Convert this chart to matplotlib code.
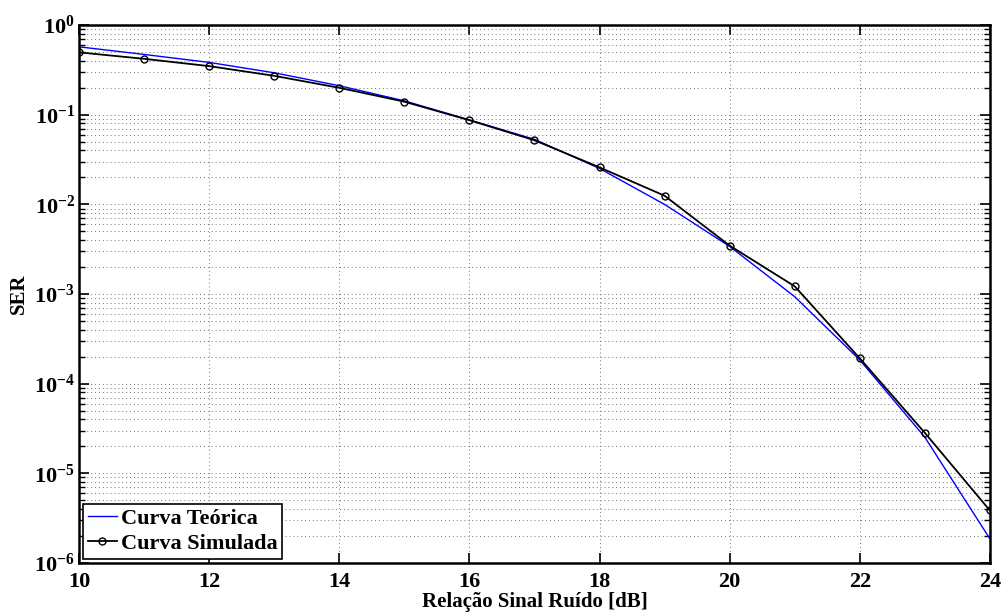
import numpy as np
import matplotlib
matplotlib.use("Agg")
import matplotlib.pyplot as plt
from matplotlib.ticker import LogLocator, FixedLocator, NullFormatter

plt.rcParams['font.family'] = ['Liberation Serif', 'DejaVu Serif']
plt.rcParams['font.weight'] = 'bold'
plt.rcParams['mathtext.fontset'] = 'custom'
plt.rcParams['mathtext.rm'] = 'Liberation Serif:bold'
plt.rcParams['mathtext.bf'] = 'Liberation Serif:bold'
plt.rcParams['mathtext.it'] = 'Liberation Serif:bold'

# SNR points (dB)
snr = [10, 11, 12, 13, 14, 15, 16, 17, 18, 19, 20, 21, 22, 23, 24]
# theoretical SER
ser_teo = [0.573, 0.471, 0.384, 0.294, 0.211, 0.143, 0.0877, 0.0532, 0.0252,
           0.0100, 0.0034, 9.35e-4, 1.84e-4, 2.53e-5, 1.86e-6]
# simulated SER
ser_sim = [0.497, 0.421, 0.349, 0.272, 0.200, 0.140, 0.087, 0.052, 0.0259,
           0.0125, 0.00347, 0.00122, 1.92e-4, 2.83e-5, 3.85e-6]

xticks = [10, 12, 14, 16, 18, 20, 22, 24]
ydecades = [1e-6, 1e-5, 1e-4, 1e-3, 1e-2, 1e-1, 1e0]

fig = plt.figure(figsize=(10.06, 6.13), dpi=100)
ax = fig.add_axes([0.0785, 0.0816, 0.9055, 0.8774])

ax.semilogy(snr, ser_teo, color='blue', lw=1.0, label='Curva Teórica')
ax.semilogy(snr, ser_sim, color='black', lw=1.3, marker='o', ms=5,
            mfc='none', mec='black', mew=1.0, label='Curva Simulada')

ax.set_xlim(10, 24)
ax.set_ylim(1e-6, 1e0)
ax.xaxis.set_major_locator(FixedLocator(xticks))
ax.yaxis.set_major_locator(FixedLocator(ydecades))
ax.yaxis.set_minor_locator(LogLocator(base=10, subs=np.arange(2, 10), numticks=20))
ax.yaxis.set_minor_formatter(NullFormatter())
ax.set_yticklabels([r'$10^{%d}$' % int(np.log10(v)) for v in ydecades])
ax.set_xticklabels([str(v) for v in xticks])

ax.tick_params(which='both', direction='in', top=True, right=True,
               labelsize=16)
ax.tick_params(which='major', length=7, width=1.2)
ax.tick_params(which='minor', length=4, width=1.0)
ax.tick_params(axis='x', pad=6.5)
ax.tick_params(axis='y', pad=3)
for s in ax.spines.values():
    s.set_linewidth(1.8)

ax.grid(True, which='major', axis='both', color='0.45', lw=0.7,
        linestyle=(0, (1, 3)))
ax.grid(True, which='minor', axis='y', color='0.45', lw=0.7,
        linestyle=(0, (1, 3)))

ax.set_xlabel('Relação Sinal Ruído [dB]', fontsize=15, fontweight='bold',
              labelpad=0)
ax.set_ylabel('SER', fontsize=15, fontweight='bold', labelpad=4)

leg = ax.legend(loc='lower left', fontsize=16, handlelength=1.3,
                handletextpad=0.2, borderpad=0.2, labelspacing=0.2,
                borderaxespad=0.2, fancybox=False, framealpha=1)
leg.get_frame().set_edgecolor('black')
leg.get_frame().set_linewidth(1.2)
for t in leg.get_texts():
    t.set_fontweight('bold')

fig.savefig('out.png', dpi=100)
